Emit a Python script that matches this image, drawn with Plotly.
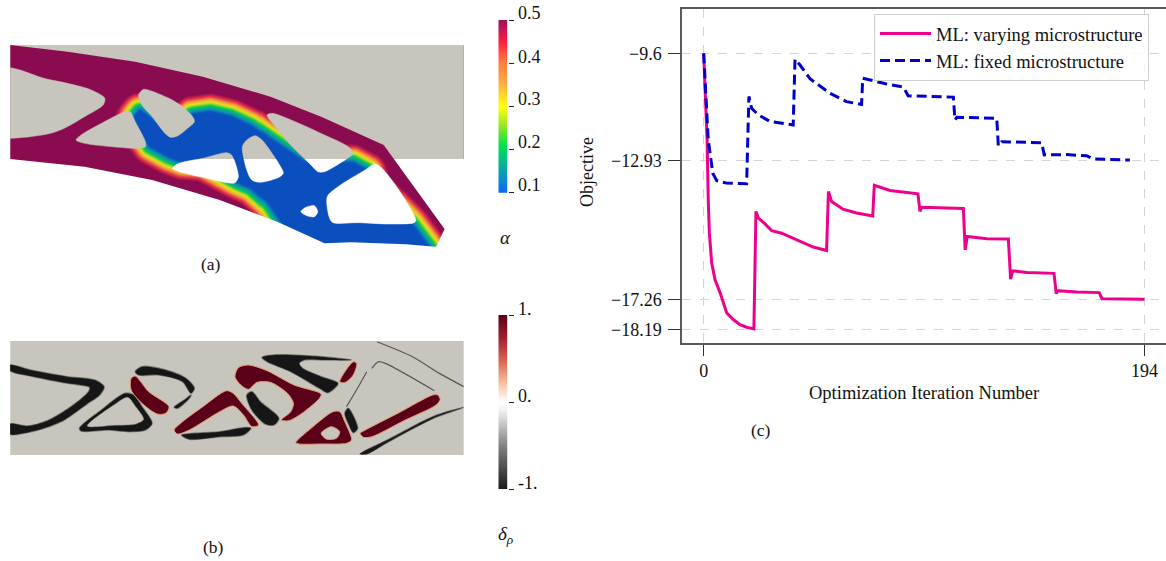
import numpy as np
import plotly.graph_objects as go

W, H = 1166, 561
SERIF = "Liberation Serif"

# ---------- panel (c) data ----------
var_iter = [0, 0.6, 1.5, 2, 2.5, 3.5, 5, 7.2, 10.1, 13, 16, 18.9, 22.1, 23, 24, 27, 29.9, 34.3, 40.9, 48.2, 54.1,
            54.9, 56.3, 61.3, 67.3, 74.4, 75.1, 82, 94.3, 95.2, 96, 114.3, 115.1, 116, 124.6, 134.1, 135.1, 136,
            142.2, 154.2, 155.2, 155.6, 164.2, 174.1, 175.3, 184.7, 194]
var_obj = [-9.6, -10.52, -12.29, -14.16, -15.19, -16.12, -16.65, -17.05, -17.68, -17.89, -18.05, -18.13, -18.18,
           -14.52, -14.72, -14.91, -15.12, -15.2, -15.4, -15.63, -15.74, -13.9, -14.21, -14.45, -14.57, -14.66,
           -13.71, -13.87, -13.97, -14.52, -14.39, -14.43, -15.72, -15.3, -15.37, -15.38, -16.63, -16.37, -16.42,
           -16.45, -17.09, -16.99, -17.03, -17.05, -17.24, -17.25, -17.26]
fix_iter = [0, 0.6, 2, 4, 5.7, 10.1, 18.9, 19.9, 21.1, 24, 29.2, 39.4, 40.2, 42.4, 46.8, 55.6, 62.9, 69.5, 70, 80.5,
            87.9, 90, 109.9, 110.6, 111.4, 129, 129.7, 131.2, 148.8, 149.9, 159.8, 168.6, 171.5, 187.6]
fix_obj = [-9.6, -10.53, -12.29, -13.33, -13.56, -13.64, -13.66, -10.94, -11.31, -11.51, -11.72, -11.83, -9.78,
           -9.96, -10.39, -10.84, -11.1, -11.19, -10.37, -10.55, -10.65, -10.92, -10.96, -11.67, -11.59, -11.62,
           -12.48, -12.35, -12.38, -12.76, -12.75, -12.79, -12.89, -12.92]
y_ticks = [-9.6, -12.93, -17.26, -18.19]
y_labels = ["\u22129.6", "\u221212.93", "\u221217.26", "\u221218.19"]
x_ticks = [0, 194]
alpha_ticks = [0.1, 0.2, 0.3, 0.4, 0.5]
delta_ticks = [-1, 0, 1]

# ---------- panel (a) geometry, panel units ----------
a_top = [(30, 45), (200, 65), (400, 95), (600, 140), (800, 200), (950, 260), (1135, 345)]
a_right = [(1315, 597), (1290, 650)]
a_bot = [(1200, 643), (1040, 637), (960, 640), (820, 575), (650, 510), (450, 450), (250, 410), (30, 387)]
a_holes = [
    [(20, 113), (30, 113), (60, 120), (130, 145), (200, 160), (270, 180), (310, 205), (305, 225), (250, 260),
     (190, 295), (150, 310), (90, 320), (30, 325), (20, 325)],
    [(410, 195), (425, 178), (445, 182), (500, 205), (540, 230), (570, 260), (575, 275), (555, 295), (525, 318),
     (505, 322), (490, 312), (450, 260), (420, 225)],
    [(225, 330), (240, 315), (300, 280), (370, 245), (385, 245), (400, 275), (430, 335), (430, 350), (410, 355),
     (350, 352), (250, 340)],
    [(510, 415), (530, 400), (600, 385), (670, 368), (685, 375), (705, 440), (695, 458), (670, 458), (600, 442),
     (530, 425)],
    [(717, 350), (730, 330), (755, 317), (775, 330), (830, 410), (838, 430), (825, 442), (770, 457), (745, 450),
     (730, 420)],
    [(790, 255), (805, 250), (880, 278), (960, 315), (1030, 350), (1045, 370), (1035, 380), (960, 425), (940, 425),
     (920, 405), (860, 345), (810, 285)],
    [(890, 545), (905, 532), (930, 527), (940, 545), (930, 560), (910, 558)],
    [(968, 500), (1000, 470), (1080, 420), (1110, 402), (1130, 415), (1180, 480), (1230, 570), (1225, 578),
     (1150, 582), (1060, 578), (985, 578), (975, 565)],
]
a_low_alpha = [(412, 245), (470, 290), (540, 290), (570, 255), (620, 248), (680, 262), (740, 290), (790, 325),
               (900, 400), (1040, 400), (1085, 425), (1100, 470), (1170, 540), (1210, 580), (1270, 660), (1000, 700),
               (860, 620), (835, 575), (795, 515), (745, 470), (700, 450), (600, 395), (540, 390), (500, 375),
               (445, 345), (420, 310), (400, 260)]
band_width = 60

# ---------- panel (b) geometry, panel units ----------
b_black = [
    [(30, 195), (90, 210), (200, 230), (280, 240), (308, 260), (295, 285), (260, 310), (190, 360), (130, 385),
     (70, 400), (30, 403), (30, 372), (80, 378), (140, 362), (210, 320), (262, 275), (265, 262), (200, 250),
     (100, 230), (30, 212)],
    [(235, 385), (300, 330), (370, 280), (395, 285), (420, 320), (450, 370), (430, 390), (380, 395), (320, 390),
     (240, 393)],
    [(400, 215), (420, 200), (490, 210), (550, 235), (575, 265), (565, 280), (540, 245), (470, 225), (410, 225)],
    [(515, 322), (545, 300), (565, 285), (560, 295), (525, 325)],
    [(537, 405), (650, 395), (720, 383), (742, 385), (720, 405), (650, 410), (560, 418)],
    [(730, 285), (745, 275), (770, 305), (825, 355), (810, 375), (785, 372), (745, 330)],
    [(775, 172), (810, 165), (920, 168), (1040, 180), (960, 180), (900, 180), (885, 190), (895, 205), (950, 230),
     (1000, 250), (970, 278), (945, 265), (860, 215), (790, 185)],
    [(1020, 340), (1030, 325), (1058, 385), (1045, 398), (1030, 370)],
    [(1065, 462), (1150, 418), (1280, 350), (1372, 322), (1280, 356), (1150, 425), (1085, 462)],
]
b_black_gaps = [[(258, 378), (335, 316), (378, 292), (400, 318), (425, 358), (402, 372), (340, 376)]]
b_thin = [
    [(1115, 125), (1220, 170), (1300, 220), (1372, 260)],
    [(1100, 205), (1120, 185), (1140, 190), (1285, 272)],
    [(1085, 215), (1060, 260), (1025, 320)],
]
b_red = [
    [(388, 235), (400, 228), (440, 275), (500, 320), (490, 340), (465, 342), (420, 310), (388, 270)],
    [(515, 390), (540, 365), (600, 320), (670, 272), (690, 280), (715, 310), (765, 375), (745, 380), (720, 345),
     (690, 318), (650, 335), (560, 390), (525, 402)],
    [(695, 230), (705, 203), (735, 195), (790, 212), (870, 255), (950, 282), (945, 295), (900, 335), (855, 362),
     (832, 360), (860, 335), (868, 310), (850, 280), (800, 247), (760, 247), (735, 268), (712, 255)],
    [(875, 428), (920, 385), (985, 335), (1005, 335), (1020, 365), (1040, 420), (1025, 430), (950, 432), (885, 432)],
    [(1065, 400), (1075, 393), (1180, 338), (1280, 285), (1295, 285), (1302, 298), (1290, 315), (1195, 362),
     (1100, 410), (1075, 412)],
    [(1005, 245), (1045, 185), (1055, 190), (1045, 225), (1020, 248)],
]
b_red_gaps = [[(950, 400), (980, 380), (1005, 395), (995, 415), (965, 417)]]

# ---------- colours ----------
BEIGE = "#c8c5bd"
MAROON = "#5a0018"
field_scale = [[0, "#0a4fbd"], [0.08, "#0a58bd"], [0.2, "#0a90b0"], [0.38, "#08c860"], [0.47, "#90d820"],
               [0.55, "#e8e018"], [0.68, "#f0a040"], [0.83, "#e83048"], [1, "#8a0b4f"]]
alpha_scale = [[0, "#0a66ff"], [0.125, "#0aa0b0"], [0.27, "#00e050"], [0.4, "#a0e820"], [0.5, "#ffff10"],
               [0.63, "#ffb040"], [0.75, "#ff8040"], [0.87, "#ff2040"], [1, "#a01060"]]
delta_scale = [[0, "#1a1a1a"], [0.25, "#808080"], [0.45, "#eeeeee"], [0.5, "#ffffff"], [0.62, "#f8b898"],
               [0.75, "#d06050"], [0.87, "#a02030"], [1, "#5a0018"]]

fig = go.Figure()
layout = {}


def add_axes(n, l, r, t, b, xr, yr):
    sx = "" if n == 1 else str(n)
    layout["xaxis" + sx] = dict(domain=[l / W, r / W], range=xr, visible=False, fixedrange=True,
                                anchor="y" + sx)
    layout["yaxis" + sx] = dict(domain=[1 - b / H, 1 - t / H], range=yr, visible=False, fixedrange=True,
                                anchor="x" + sx)
    return ("x" + sx, "y" + sx)


PX = 2.958  # panel units per pixel, horizontally
PY = 3.0
L, R = 30 / PX, 1372 / PX
ax_field = add_axes(1, L, R, 45, 250, [30, 1372], [660, 45])
ax_beige = add_axes(2, L, R, 45, 159, [30, 1372], [387, 45])
ax_white = add_axes(3, 0, 540, 159, 300, [0, 540 * PX], [387 + 141 * PY, 387])
ax_b = add_axes(4, L, R, 340.7, 455, [30, 1372], [465, 122])


def poly(pts, color, ax, line=None, lw=0, spline=True, fill=True):
    xs = [p[0] for p in pts]
    ys = [p[1] for p in pts]
    if fill:
        xs.append(pts[0][0])
        ys.append(pts[0][1])
    fig.add_trace(go.Scatter(
        x=xs, y=ys, mode="lines", xaxis=ax[0], yaxis=ax[1], showlegend=False, hoverinfo="skip",
        fill="toself" if fill else "none", fillcolor=color if fill else None,
        line=dict(color=line or color, width=lw, shape="spline" if spline else "linear", smoothing=0.8),
    ))


def inside(gx, gy, pts):
    p = np.array(pts, float)
    q = np.roll(p, -1, axis=0)
    res = np.zeros(gx.shape, bool)
    for (x0, y0), (x1, y1) in zip(p, q):
        if y0 == y1:
            continue
        cond = (y0 > gy) != (y1 > gy)
        xc = x0 + (gy - y0) * (x1 - x0) / (y1 - y0)
        res ^= cond & (gx < xc)
    return res


def seg_dist(gx, gy, pts):
    p = np.array(pts, float)
    q = np.roll(p, -1, axis=0)
    d = np.full(gx.shape, 1e9)
    for (x0, y0), (x1, y1) in zip(p, q):
        dx, dy = x1 - x0, y1 - y0
        t = np.clip(((gx - x0) * dx + (gy - y0) * dy) / (dx * dx + dy * dy), 0, 1)
        d = np.minimum(d, np.hypot(gx + 0 - x0 - t * dx, gy - y0 - t * dy))
    return d


# panel (a): field
fx = np.arange(30, 1375, 3.0)
fy = np.arange(45, 663, 3.0)
gx, gy = np.meshgrid(fx, fy)
dist = seg_dist(gx, gy, a_low_alpha)
dist[inside(gx, gy, a_low_alpha)] = 0
field = 0.1 + 0.4 * np.clip(dist / band_width, 0, 1)
fig.add_trace(go.Heatmap(x=fx, y=fy, z=np.round(field, 3), xaxis=ax_field[0], yaxis=ax_field[1], zmin=0.1, zmax=0.5,
                         colorscale=field_scale, showscale=False, hoverinfo="skip", zsmooth="best"))

# panel (a): everything that is not structure, masked beige above the cut and white below it
outside = [(-200, -200), (-200, 45)] + a_top + a_right + a_bot + [(-200, 387), (-200, 1000), (2000, 1000), (2000, -200)]
for ax, col in ((ax_beige, BEIGE), (ax_white, "#ffffff")):
    poly(outside, col, ax, spline=False)
    for hole in a_holes:
        poly(hole, col, ax, line=col, lw=0.5)

# panel (b)
fig.add_trace(go.Scatter(x=[30, 1372, 1372, 30, 30], y=[122, 122, 465, 465, 122], mode="lines", fill="toself",
                         fillcolor=BEIGE, line=dict(width=0, color=BEIGE), xaxis=ax_b[0], yaxis=ax_b[1],
                         showlegend=False, hoverinfo="skip"))
for s in b_black:
    poly(s, "#161616", ax_b, line="rgba(40,40,40,0.45)", lw=1.5)
for s in b_black_gaps:
    poly(s, BEIGE, ax_b, line="rgba(120,120,120,0.5)", lw=1)
for s in b_thin:
    poly(s, None, ax_b, line="rgba(50,50,50,0.75)", lw=1.2, fill=False)
for s in b_red:
    poly(s, MAROON, ax_b, line="#e89a70", lw=1)
for s in b_red_gaps:
    poly(s, BEIGE, ax_b, line="#e89a70", lw=1)

# colour bars
cb_a = np.linspace(0.1, 0.5, 172)
layout["xaxis5"] = dict(domain=[498.3 / W, 507.7 / W], range=[0, 1], visible=False, fixedrange=True, anchor="y5")
layout["yaxis5"] = dict(domain=[1 - 192.7 / H, 1 - 20 / H], range=[0.1, 0.5], side="right", anchor="x5", ticks="outside",
                        ticklen=5, tickwidth=1, tickcolor="#222", tickvals=alpha_ticks, showticklabels=False,
                        showgrid=False, zeroline=False, fixedrange=True)
fig.add_trace(go.Heatmap(x=[0, 1], y=cb_a, z=np.column_stack([cb_a, cb_a]), xaxis="x5", yaxis="y5", zmin=0.1, zmax=0.5,
                         colorscale=alpha_scale, showscale=False, hoverinfo="skip", zsmooth="best"))
cb_d = np.linspace(-1, 1, 174)
layout["xaxis6"] = dict(domain=[498.3 / W, 507.7 / W], range=[0, 1], visible=False, fixedrange=True, anchor="y6")
layout["yaxis6"] = dict(domain=[1 - 489 / H, 1 - 315 / H], range=[-1, 1], side="right", anchor="x6", ticks="outside",
                        ticklen=5, tickwidth=1, tickcolor="#222", tickvals=delta_ticks, showticklabels=False,
                        showgrid=False, zeroline=False, fixedrange=True)
fig.add_trace(go.Heatmap(x=[0, 1], y=cb_d, z=np.column_stack([cb_d, cb_d]), xaxis="x6", yaxis="y6", zmin=-1, zmax=1,
                         colorscale=delta_scale, showscale=False, hoverinfo="skip", zsmooth="best"))

# panel (c)
AXC = "#5a5a5a"
GRID = "#d4d4d4"
layout["xaxis7"] = dict(domain=[682 / W, 1], range=[-9.55, 203.5], anchor="y7", tickvals=x_ticks,
                        ticktext=[str(v) for v in x_ticks], ticks="outside", ticklen=11, tickwidth=1, tickcolor="#333",
                        showline=True, linecolor=AXC, linewidth=1.5, mirror=True, showgrid=True, gridcolor=GRID,
                        griddash="dash", gridwidth=1.2, zeroline=False, fixedrange=True,
                        tickfont=dict(family=SERIF, size=18, color="#111"))
layout["yaxis7"] = dict(domain=[1 - 343 / H, 1 - 8.5 / H], range=[-18.62, -8.2], anchor="x7", tickvals=y_ticks,
                        ticktext=y_labels, ticks="outside", ticklen=12, tickwidth=1, tickcolor="#333",
                        showline=True, linecolor=AXC, linewidth=1.5, showgrid=True, gridcolor=GRID,
                        griddash="dash", gridwidth=1.2, zeroline=False, fixedrange=True, ticklabelstandoff=3,
                        tickfont=dict(family=SERIF, size=18, color="#111"))
fig.add_trace(go.Scatter(x=var_iter, y=var_obj, mode="lines", name="ML: varying microstructure", xaxis="x7", yaxis="y7",
                         line=dict(color="#ec008c", width=3)))
fig.add_trace(go.Scatter(x=fix_iter, y=fix_obj, mode="lines", name="ML: fixed microstructure", xaxis="x7", yaxis="y7",
                         line=dict(color="#0000cc", width=3, dash="10px,5px")))


def label(x, y, text, size=18, xanchor="center", angle=0):
    return dict(x=x / W, y=1 - y / H, xref="paper", yref="paper", text=text, showarrow=False, xanchor=xanchor,
                yanchor="middle", textangle=angle, font=dict(family=SERIF, size=size, color="#111"))


anns = [
    label(211, 264, "(a)", 17.5), label(213, 547, "(b)", 17.5), label(761, 430, "(c)", 17.5),
    label(505, 237, "<i>\u03b1</i>", 19), label(505, 535, "<i>\u03b4<sub>\u03c1</sub></i>", 19),
    label(924, 393, "Optimization Iteration Number", 18.5),
    label(587, 172, "Objective", 18, angle=-90),
]
for text, y in zip(["0.5", "0.4", "0.3", "0.2", "0.1"], [12.7, 57, 99, 142, 185]):
    anns.append(label(516, y, text, 18, "left"))
for text, y in zip(["1.", "0.", "-1."], [309, 396, 483]):
    anns.append(label(516, y, text, 18, "left"))

fig.update_layout(
    width=W, height=H, margin=dict(l=0, r=0, t=0, b=0), paper_bgcolor="white", plot_bgcolor="rgba(0,0,0,0)",
    annotations=anns, hovermode=False,
    legend=dict(x=874 / W, y=1 - 14 / H, xanchor="left", yanchor="top", bgcolor="rgba(255,255,255,0.8)",
                bordercolor="#cfcfcf", borderwidth=1, itemwidth=51, tracegroupgap=0,
                entrywidth=233, entrywidthmode="pixels",
                font=dict(family=SERIF, size=18.5, color="#111")),
    **layout,
)
fig.write_html("out.html", config={"displayModeBar": False},
               post_script="document.body.style.margin='0';document.body.style.overflow='hidden';")
